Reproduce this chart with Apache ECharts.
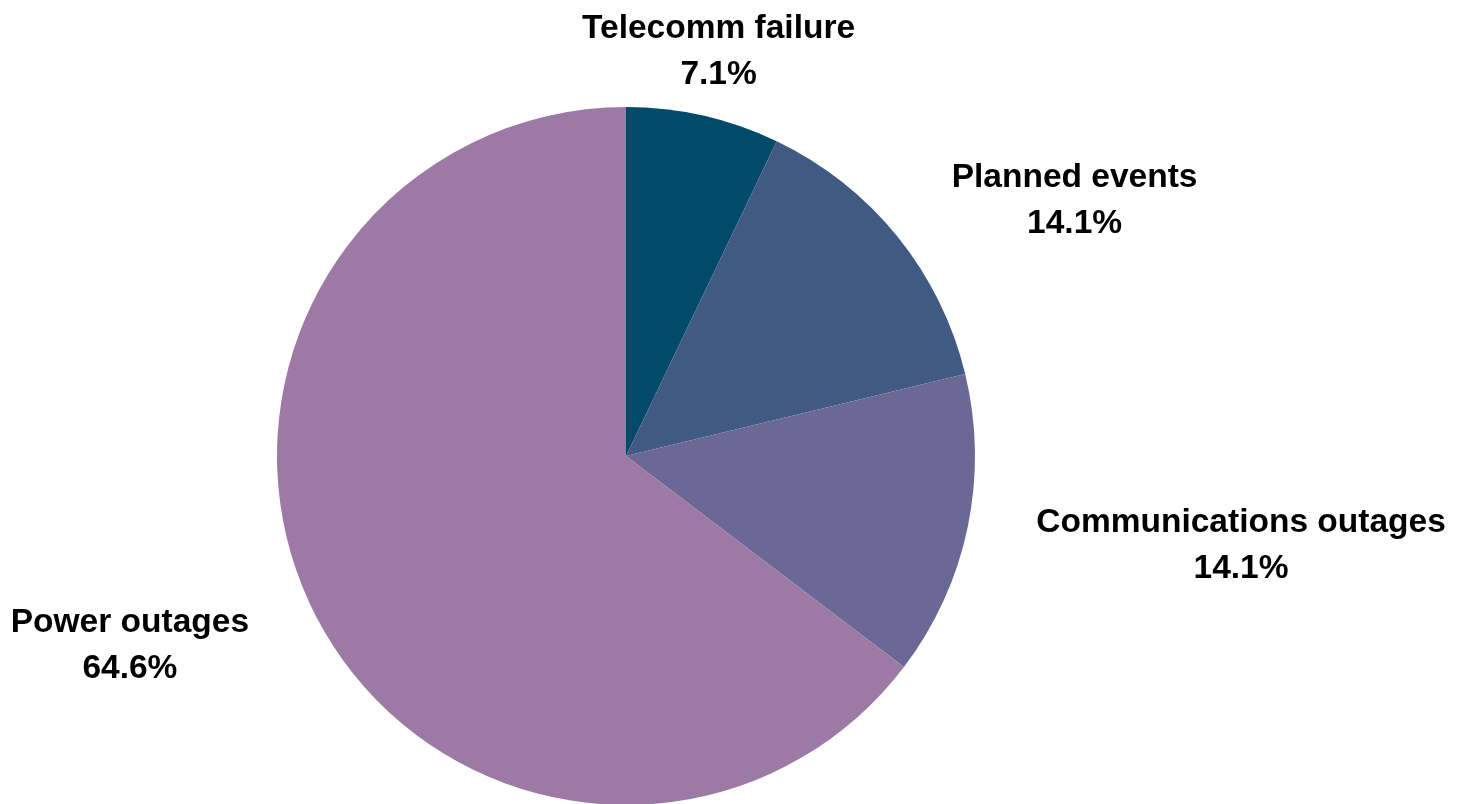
<!DOCTYPE html>
<html>
<head>
<meta charset="utf-8">
<script src="https://cdn.jsdelivr.net/npm/echarts@6/dist/echarts.min.js"></script>
<style>
html,body{margin:0;padding:0;background:#fff;}
#chart{width:1465px;height:804px;}
</style>
</head>
<body>
<div id="chart"></div>
<script>
const categories = ['Telecomm failure', 'Planned events', 'Communications outages', 'Power outages'];
const values = [7.1, 14.1, 14.1, 64.6];
const colors = ['#024a69', '#415a84', '#6c6896', '#9d7aa5'];
// label placement (radial length, horizontal length) per slice
const labelLens = [[69, 0], [61, 130], [76, 199], [72, 119]];

const chart = echarts.init(document.getElementById('chart'), null, {renderer: 'canvas'});
chart.setOption({
  animation: false,
  backgroundColor: '#ffffff',
  series: [{
    type: 'pie',
    center: [626, 456],
    radius: 349,
    startAngle: 90,
    clockwise: true,
    avoidLabelOverlap: false,
    itemStyle: {borderWidth: 0},
    emphasis: {disabled: true},
    label: {
      show: true,
      position: 'outside',
      formatter: '{b}\n{c}%',
      fontFamily: '"Liberation Sans", Arial, sans-serif',
      fontWeight: 'bold',
      fontSize: 33.5,
      lineHeight: 46,
      color: '#000000',
      distanceToLabelLine: 0
    },
    labelLine: {show: false},
    labelLayout: function () { return {align: 'center', verticalAlign: 'middle', dy: 3}; },
    data: categories.map((name, i) => ({
      name: name,
      value: values[i],
      itemStyle: {color: colors[i]},
      labelLine: {show: false, length: labelLens[i][0], length2: labelLens[i][1]}
    }))
  }]
});
</script>
</body>
</html>
